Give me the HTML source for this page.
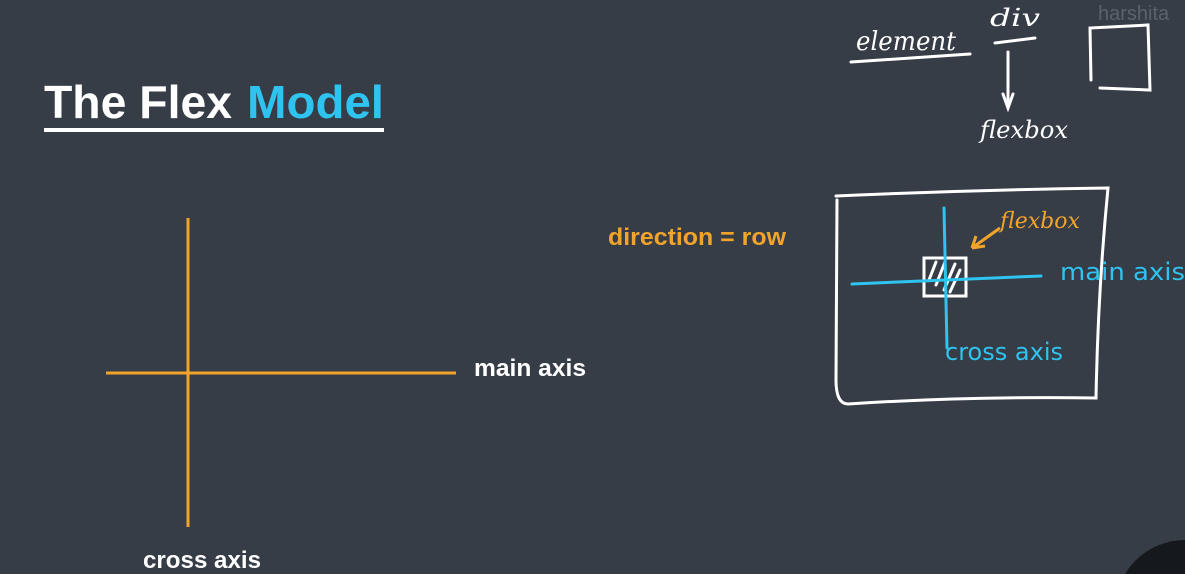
<!DOCTYPE html>
<html><head><meta charset="utf-8"><style>
html,body{margin:0;padding:0;background:#363d47;width:1185px;height:574px;overflow:hidden;}
svg{display:block}
</style></head><body>
<svg width="1185" height="574" viewBox="0 0 1185 574" xmlns="http://www.w3.org/2000/svg">
<rect width="1185" height="574" fill="#363d47"/>
<text x="44" y="118" font-family="Liberation Sans, sans-serif" font-weight="bold" font-size="46" fill="#fff" textLength="188" lengthAdjust="spacingAndGlyphs">The Flex</text>
<text x="247" y="118" font-family="Liberation Sans, sans-serif" font-weight="bold" font-size="46" fill="#2ec4ef" textLength="137" lengthAdjust="spacingAndGlyphs">Model</text>
<rect x="44" y="128" width="340" height="4" fill="#fff"/>
<line x1="188" y1="218" x2="188" y2="527" stroke="#f2a42a" stroke-width="3"/>
<line x1="106" y1="373" x2="456" y2="373" stroke="#f2a42a" stroke-width="3"/>
<text x="474" y="376" font-family="Liberation Sans, sans-serif" font-weight="bold" font-size="24" fill="#fff" textLength="112" lengthAdjust="spacingAndGlyphs">main axis</text>
<text x="143" y="568" font-family="Liberation Sans, sans-serif" font-weight="bold" font-size="24" fill="#fff" textLength="118" lengthAdjust="spacingAndGlyphs">cross axis</text>
<text x="608" y="245" font-family="Liberation Sans, sans-serif" font-weight="bold" font-size="24" fill="#f2a42a" textLength="178" lengthAdjust="spacingAndGlyphs">direction = row</text>
<g fill="none" stroke="#fff" stroke-width="3" stroke-linecap="round">
<text x="856" y="50" font-family="DejaVu Serif, serif" font-style="italic" font-size="26" fill="#fff" stroke="none" textLength="100" lengthAdjust="spacingAndGlyphs">element</text>
<path d="M851 62 Q910 58 970 54"/>
<text x="990" y="26" font-family="DejaVu Serif, serif" font-style="italic" font-size="24" fill="#fff" stroke="none" textLength="50" lengthAdjust="spacingAndGlyphs">div</text>
<path d="M995 43 L1035 38"/>
<path d="M1008 52 L1008 106 M1003 94 L1008 108 L1013 94"/>
<text x="980" y="138" font-family="DejaVu Serif, serif" font-style="italic" font-size="24" fill="#fff" stroke="none" textLength="88" lengthAdjust="spacingAndGlyphs">flexbox</text>
<path d="M1091 80 L1090 28 L1148 25 L1150 90 L1100 88"/>
<text x="1098" y="20" font-family="Liberation Sans, sans-serif" font-size="20" fill="#5a626c" stroke="none">harshita</text>
<path d="M836 196 Q970 190 1108 188 Q1098 290 1096 398 Q970 396 848 404 Q836 404 836 380 L837 200"/>
<rect x="924" y="258" width="42" height="38"/>
<path d="M929 280 L936 262 M936 285 L945 262 M944 290 L955 264 M950 292 L960 270"/>
</g>
<g stroke="#2ec4ef" stroke-width="3" fill="none" stroke-linecap="round">
<line x1="944" y1="208" x2="947" y2="348"/>
<line x1="852" y1="284" x2="1041" y2="276"/>
</g>
<text x="945" y="360" font-family="DejaVu Sans, sans-serif" font-size="24" fill="#2ec4ef" textLength="118" lengthAdjust="spacingAndGlyphs">cross axis</text>
<text x="1060" y="280" font-family="DejaVu Sans, sans-serif" font-size="24" fill="#2ec4ef" textLength="125" lengthAdjust="spacingAndGlyphs">main axis</text>
<text x="1000" y="228" font-family="DejaVu Serif, serif" font-style="italic" font-size="22" fill="#f2a42a" textLength="80" lengthAdjust="spacingAndGlyphs">flexbox</text>
<path d="M1000 228 L972 248 M972 248 L985 246 M972 248 L976 236" stroke="#f2a42a" stroke-width="3" fill="none"/>
<path d="M1125 574 A70 70 0 0 1 1185 540 L1185 574 Z" fill="#15181c"/>
</svg>
</body></html>
